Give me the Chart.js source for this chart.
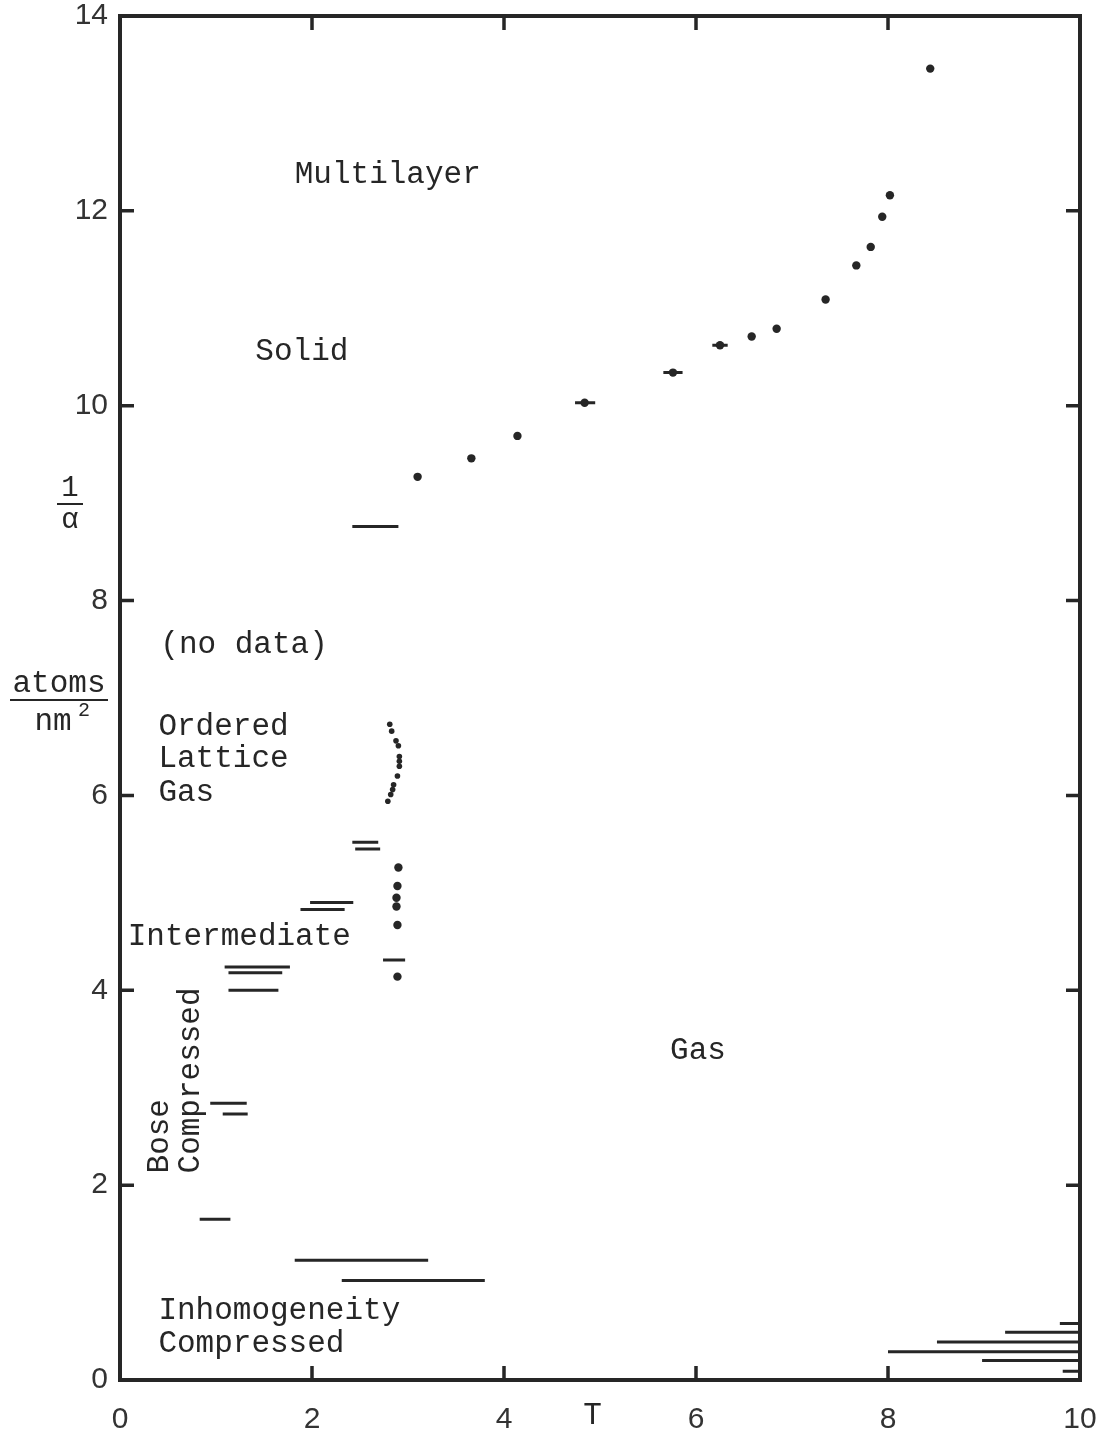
<!DOCTYPE html>
<html>
<head>
<meta charset="utf-8">
<script src="https://cdn.jsdelivr.net/npm/chart.js@4.4.1/dist/chart.umd.min.js"></script>
<style>
  html, body { margin: 0; padding: 0; background: #fff; }
  #wrap { width: 1109px; height: 1429px; }
</style>
</head>
<body>
<div id="wrap"><canvas id="c" width="1109" height="1429"></canvas></div>
<script>
// single data points (T, atoms/nm^2)
const dotT = [8.44, 8.02, 7.94, 7.82, 7.67, 7.35, 6.84, 6.58, 6.25, 5.76, 4.84, 4.14, 3.66, 3.10,
  2.81, 2.83, 2.875, 2.90, 2.91, 2.91, 2.91, 2.89, 2.85, 2.84, 2.82, 2.79,
  2.90, 2.89, 2.88, 2.88, 2.89, 2.89];
const dotN = [13.46, 12.16, 11.94, 11.63, 11.44, 11.09, 10.79, 10.71, 10.62, 10.34, 10.03, 9.69, 9.46, 9.27,
  6.73, 6.66, 6.56, 6.51, 6.40, 6.35, 6.30, 6.20, 6.11, 6.06, 6.01, 5.94,
  5.26, 5.07, 4.95, 4.86, 4.67, 4.14];

// horizontal ranges in T at fixed density
const barN  = [10.34, 10.03, 10.62, 8.76, 5.52, 5.45, 4.90, 4.83, 4.31, 4.24, 4.18, 4.00, 2.84, 2.73, 1.65, 1.23, 1.02,
  0.58, 0.49, 0.39, 0.29, 0.20, 0.09];
const barLo = [5.66, 4.74, 6.17, 2.42, 2.42, 2.45, 1.98, 1.88, 2.74, 1.09, 1.13, 1.13, 0.94, 1.07, 0.83, 1.82, 2.31,
  9.79, 9.22, 8.51, 8.00, 8.98, 9.82];
const barHi = [5.86, 4.95, 6.33, 2.90, 2.69, 2.71, 2.43, 2.34, 2.97, 1.77, 1.69, 1.65, 1.32, 1.33, 1.15, 3.21, 3.80,
  10, 10, 10, 10, 10, 10];

const xTicks = [0, 2, 4, 6, 8, 10];
const yTicks = [0, 2, 4, 6, 8, 10, 12, 14];

// phase region labels: text, T, n
const regionText = ["Multilayer", "Solid", "(no data)", "Ordered", "Lattice", "Gas", "Intermediate", "Inhomogeneity", "Compressed", "Gas"];
const regionT    = [1.82, 1.41, 0.42, 0.40, 0.40, 0.40, 0.08, 0.40, 0.40, 5.73];
const regionN    = [12.37, 10.55, 7.55, 6.70, 6.38, 6.03, 4.55, 0.71, 0.37, 3.38];
// vertical labels
const vertText = ["Bose", "Compressed"];
const vertT    = [0.41, 0.74];
const vertN    = [2.12, 2.12];

const ink = "#262626";
const typeFont = "31px 'Liberation Mono', 'DejaVu Sans Mono', monospace";

const dots = dotT.map((t, i) => ({ x: t, y: dotN[i] }));
const dotRadius = dotT.map((t, i) => (i >= 14 && i < 26 ? 2.8 : 4.2));
const bars = [];
barN.forEach((n, i) => {
  bars.push({ x: barLo[i], y: n }, { x: barHi[i], y: n }, { x: null, y: null });
});

const decor = {
  id: "decor",
  afterDraw(chart) {
    const ctx = chart.ctx;
    const xs = chart.scales.x, ys = chart.scales.y;
    const a = chart.chartArea;
    ctx.save();
    ctx.strokeStyle = ink;
    ctx.lineWidth = 4;
    ctx.strokeRect(a.left, a.top, a.right - a.left, a.bottom - a.top);
    // inward ticks
    ctx.lineWidth = 3.5;
    const tl = 14;
    ctx.beginPath();
    xTicks.slice(1, -1).forEach(v => {
      const px = xs.getPixelForValue(v);
      ctx.moveTo(px, a.top); ctx.lineTo(px, a.top + tl);
      ctx.moveTo(px, a.bottom); ctx.lineTo(px, a.bottom - tl);
    });
    yTicks.slice(1, -1).forEach(v => {
      const py = ys.getPixelForValue(v);
      ctx.moveTo(a.left, py); ctx.lineTo(a.left + tl, py);
      ctx.moveTo(a.right, py); ctx.lineTo(a.right - tl, py);
    });
    ctx.stroke();

    // region labels
    ctx.fillStyle = ink;
    ctx.font = typeFont;
    ctx.textAlign = "left";
    ctx.textBaseline = "middle";
    regionText.forEach((s, i) => {
      ctx.fillText(s, xs.getPixelForValue(regionT[i]), ys.getPixelForValue(regionN[i]));
    });
    vertText.forEach((s, i) => {
      ctx.save();
      ctx.translate(xs.getPixelForValue(vertT[i]), ys.getPixelForValue(vertN[i]));
      ctx.rotate(-Math.PI / 2);
      ctx.fillText(s, 0, 0);
      ctx.restore();
    });

    // axis titles
    ctx.fillText("T", xs.getPixelForValue(4.92) - 9, a.bottom + 36);
    ctx.textAlign = "center";
    ctx.font = "29px 'Liberation Mono', monospace";
    ctx.fillText("1", 70, 488);
    ctx.fillText("\u03b1", 70, 520);
    ctx.lineWidth = 2;
    ctx.beginPath(); ctx.moveTo(57, 504); ctx.lineTo(83, 504); ctx.stroke();
    ctx.font = typeFont;
    ctx.fillText("atoms", 59, 684);
    ctx.beginPath(); ctx.moveTo(10, 700); ctx.lineTo(108, 700); ctx.stroke();
    ctx.fillText("nm", 53, 722);
    ctx.font = "20px 'Liberation Mono', monospace";
    ctx.fillText("2", 84, 711);
    ctx.restore();
  }
};

new Chart(document.getElementById("c"), {
  type: "scatter",
  data: {
    datasets: [
      {
        label: "points",
        data: dots,
        backgroundColor: ink,
        borderColor: ink,
        pointRadius: dotRadius,
        pointBorderWidth: 0
      },
      {
        label: "ranges",
        type: "line",
        data: bars,
        borderColor: ink,
        borderWidth: 3,
        pointRadius: 0,
        spanGaps: false,
        fill: false
      }
    ]
  },
  plugins: [decor],
  options: {
    responsive: false,
    animation: false,
    layout: { padding: { left: 0, right: 29, top: 16, bottom: 0 } },
    plugins: { legend: { display: false }, tooltip: { enabled: false } },
    scales: {
      x: {
        type: "linear",
        min: 0, max: 10,
        afterBuildTicks: s => { s.ticks = xTicks.map(v => ({ value: v })); },
        afterFit: s => { s.height = 49; s.paddingLeft = 0; s.paddingRight = 0; },
        grid: { display: false, drawTicks: false },
        border: { display: false },
        ticks: { padding: 22, color: "#333", font: { family: "'Liberation Sans', sans-serif", size: 30 } }
      },
      y: {
        type: "linear",
        min: 0, max: 14,
        afterBuildTicks: s => { s.ticks = yTicks.map(v => ({ value: v })); },
        afterFit: s => { s.width = 120; s.paddingTop = 0; s.paddingBottom = 0; },
        grid: { display: false, drawTicks: false },
        border: { display: false },
        ticks: { padding: 12, color: "#333", font: { family: "'Liberation Sans', sans-serif", size: 30 } }
      }
    }
  }
});
</script>
</body>
</html>
